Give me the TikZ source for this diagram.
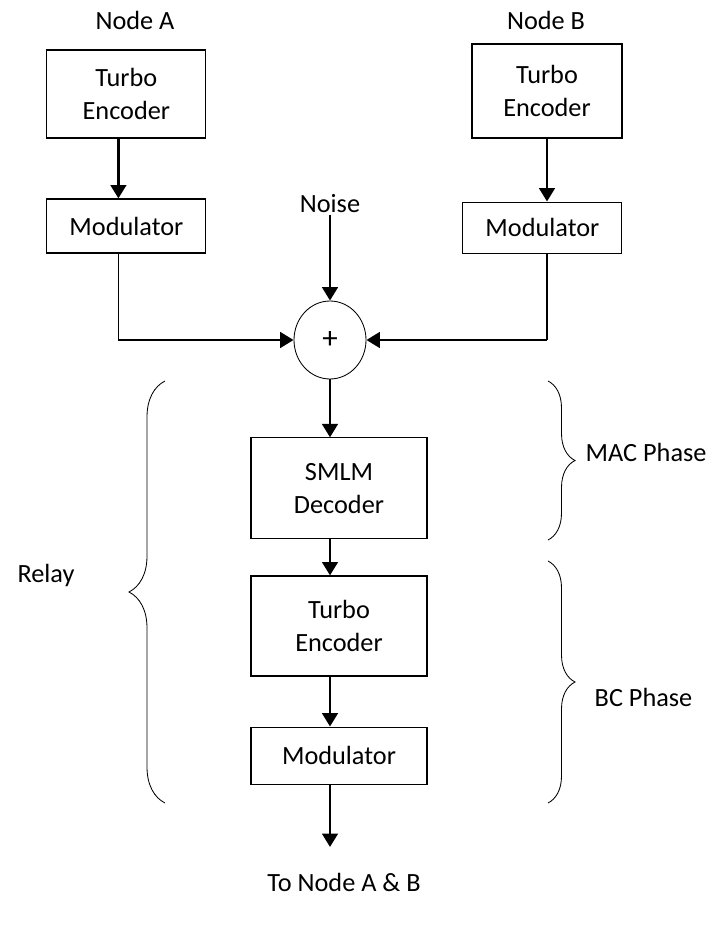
\documentclass[tikz,border=0pt]{standalone}
\usepackage{fontspec}
\setmainfont{Carlito}
\usetikzlibrary{positioning, calc, shapes.geometric, arrows.meta, decorations.pathreplacing}

\begin{document}
\begin{tikzpicture}[
            blk/.style={rectangle, draw=black, line width=0.8pt, align=center, inner sep=0pt, font=\fontsize{18.7}{23}\selectfont},
            lbl/.style={inner sep=1pt, font=\fontsize{18.7}{23}\selectfont},
            adder/.style={ellipse, draw=black, line width=0.6pt, minimum width=1.8cm, minimum height=1.95cm, inner sep=0pt, font=\fontsize{22}{23}\selectfont},
            flow/.style={-{Triangle[length=9.5pt, width=11pt]}, line width=2pt},
            wire/.style={line width=0.8pt},
            grp/.style={decorate, decoration={brace, amplitude=#1}, line width=0.6pt}
        ]
            \useasboundingbox (0,0) rectangle (17.65,-23.625);

            % Node A
            \node[lbl] (la) at (3.375,-0.5) {Node A};
            \node[blk, minimum width=3.975cm, minimum height=2.2cm] (encA) at (3.16,-2.35) {Turbo\\Encoder};
            \node[blk, minimum width=3.975cm, minimum height=1.35cm] (modA) at (3.16,-5.65) {Modulator};

            % Node B
            \node[lbl] (lb) at (13.65,-0.5) {Node B};
            \node[blk, minimum width=3.75cm, minimum height=2.35cm] (encB) at (13.675,-2.275) {Turbo\\Encoder};
            \node[blk, minimum width=3.975cm, minimum height=1.275cm] (modB) at (13.56,-5.69) {Modulator};

            % Channel
            \node[lbl] (noise) at (8.25,-5.1) {Noise};
            \node[adder] (sum) at (8.25,-8.5) {+};
            \coordinate (cA) at (2.96,-8.5);
            \coordinate (cB) at (13.675,-8.5);

            % Relay
            \node[blk, minimum width=4.4cm, minimum height=2.525cm] (smlm) at (8.475,-12.21) {SMLM\\Decoder};
            \node[blk, minimum width=4.4cm, minimum height=2.5cm] (encR) at (8.475,-15.65) {Turbo\\Encoder};
            \node[blk, minimum width=4.4cm, minimum height=1.425cm] (modR) at (8.475,-18.89) {Modulator};
            \coordinate (out) at (8.25,-21.175);
            \node[lbl] (toab) at (8.6,-22.05) {To Node A \& B};

            % Links
            \draw[flow] (encA.south -| cA) -- (modA.north -| cA);
            \draw[flow] (encB.south -| cB) -- (modB.north -| cB);
            \draw[wire] (modA.south -| cA) -- (cA);
            \draw[wire] (modB.south -| cB) -- (cB);
            \draw[flow] (cA) -- (sum.west);
            \draw[flow] (cB) -- (sum.east);
            \draw[flow] (noise.south) -- (sum.north);
            \draw[flow] (sum.south) -- (smlm.north -| sum);
            \draw[flow] (smlm.south -| sum) -- (encR.north -| sum);
            \draw[flow] (encR.south -| sum) -- (modR.north -| sum);
            \draw[flow] (modR.south -| sum) -- (out);

            % Braces
            \draw[grp=0.9cm] (4.125,-20.075) -- (4.125,-9.525);
            \node[lbl] (relay) at (1.15,-14.375) {Relay};
            \draw[grp=0.675cm] (13.7,-9.525) -- (13.7,-13.5);
            \node[lbl, anchor=west] (mac) at (14.6,-11.3) {MAC Phase};
            \draw[grp=0.675cm] (13.7,-14.025) -- (13.7,-20.075);
            \node[lbl, anchor=west] (bc) at (14.825,-17.425) {BC Phase};
        \end{tikzpicture}
\end{document}
